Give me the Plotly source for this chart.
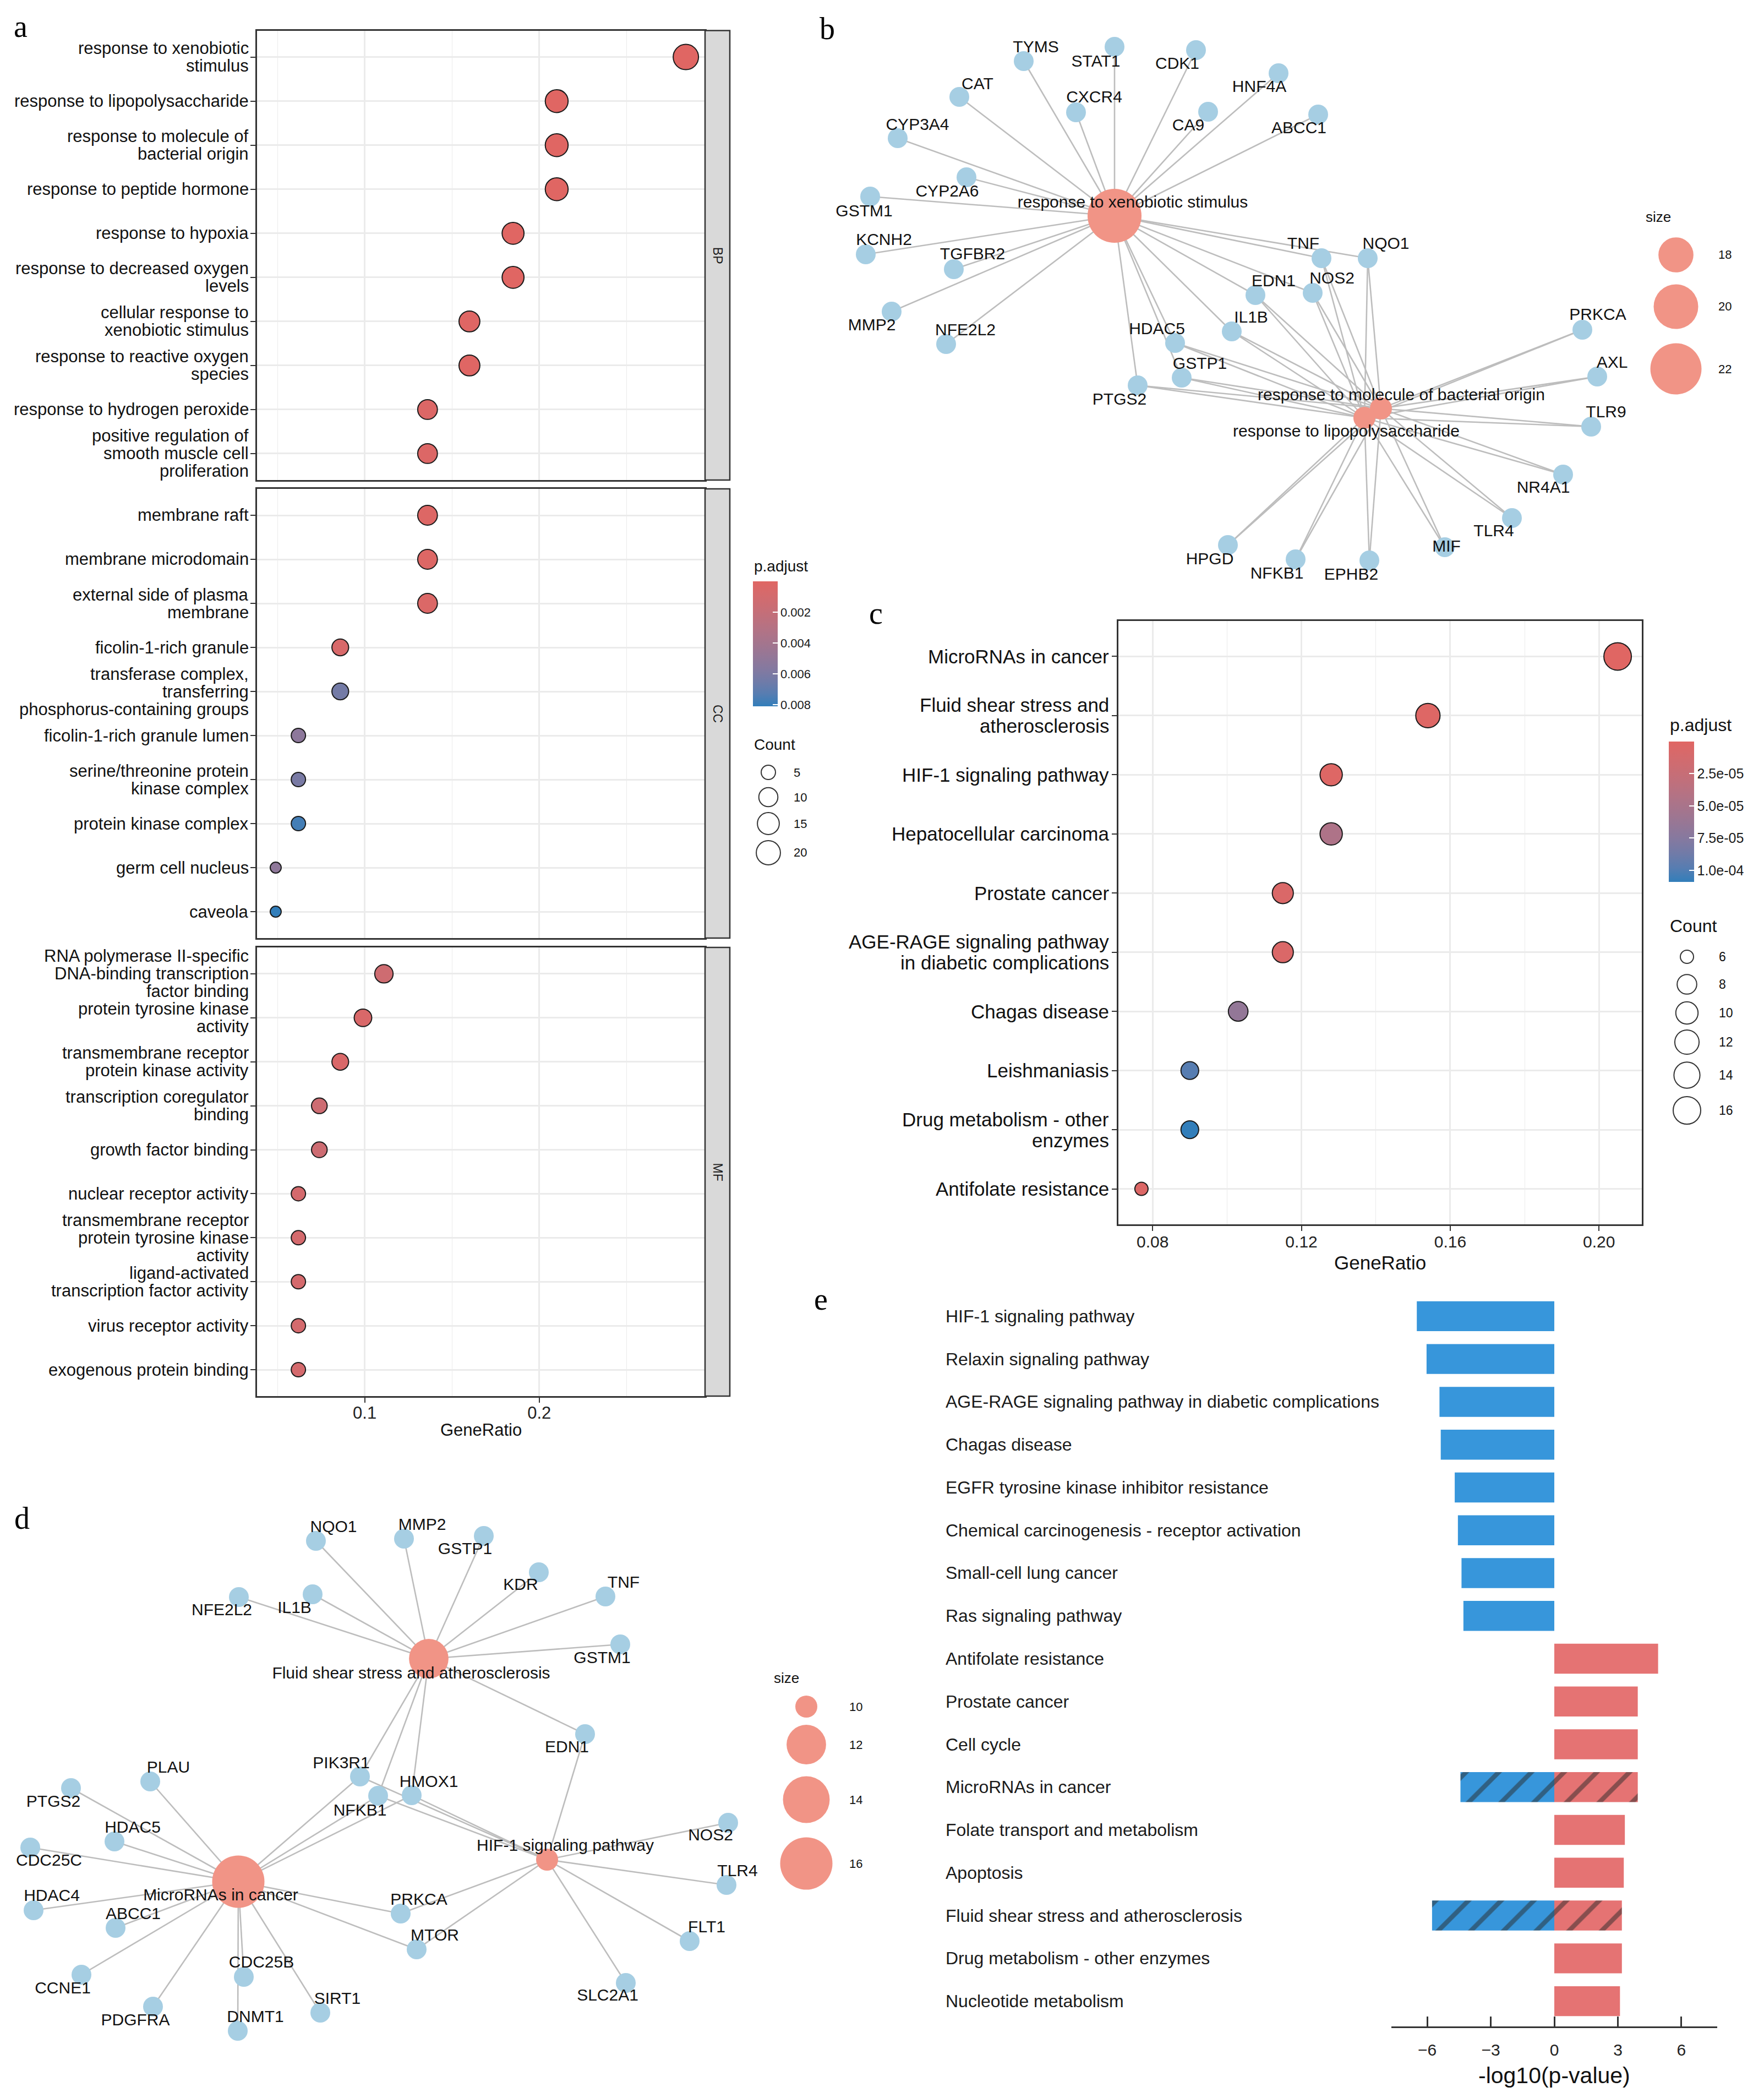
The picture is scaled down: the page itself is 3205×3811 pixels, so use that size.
import math
import plotly.graph_objects as go

W, H = 3205, 3811
SANS = "Liberation Sans, Arial, Helvetica, sans-serif"
SERIF = "Liberation Serif, Times New Roman, serif"

# ------------------------------------------------------------------ data: panel a (GO dot plot)
a_bp_terms = ["response to xenobiotic<br>stimulus", "response to lipopolysaccharide",
              "response to molecule of<br>bacterial origin", "response to peptide hormone",
              "response to hypoxia", "response to decreased oxygen<br>levels",
              "cellular response to<br>xenobiotic stimulus", "response to reactive oxygen<br>species",
              "response to hydrogen peroxide", "positive regulation of<br>smooth muscle cell<br>proliferation"]
a_bp_ratio = [0.284, 0.210, 0.210, 0.210, 0.185, 0.185, 0.160, 0.160, 0.136, 0.136]
a_bp_count = [23, 17, 17, 17, 15, 15, 13, 13, 11, 11]
a_bp_padj = [2e-8, 1e-6, 1e-6, 2e-6, 2e-5, 2e-5, 1e-4, 1e-4, 3e-4, 3e-4]

a_cc_terms = ["membrane raft", "membrane microdomain", "external side of plasma<br>membrane",
              "ficolin-1-rich granule", "transferase complex,<br>transferring<br>phosphorus-containing groups",
              "ficolin-1-rich granule lumen", "serine/threonine protein<br>kinase complex",
              "protein kinase complex", "germ cell nucleus", "caveola"]
a_cc_ratio = [0.136, 0.136, 0.136, 0.086, 0.086, 0.062, 0.062, 0.062, 0.049, 0.049]
a_cc_count = [11, 11, 11, 7, 7, 5, 5, 5, 4, 4]
a_cc_padj = [2e-4, 2e-4, 4e-4, 6e-4, 0.0063, 0.0052, 0.0061, 0.0077, 0.0051, 0.0081]

a_mf_terms = ["RNA polymerase II-specific<br>DNA-binding transcription<br>factor binding",
              "protein tyrosine kinase<br>activity", "transmembrane receptor<br>protein kinase activity",
              "transcription coregulator<br>binding", "growth factor binding", "nuclear receptor activity",
              "transmembrane receptor<br>protein tyrosine kinase<br>activity",
              "ligand-activated<br>transcription factor activity", "virus receptor activity",
              "exogenous protein binding"]
a_mf_ratio = [0.111, 0.099, 0.086, 0.074, 0.074, 0.062, 0.062, 0.062, 0.062, 0.062]
a_mf_count = [9, 8, 7, 6, 6, 5, 5, 5, 5, 5]
a_mf_padj = [0.0013, 0.0005, 0.0005, 0.0014, 0.0014, 0.0009, 0.0009, 0.0009, 0.0009, 0.0009]

a_facets = ["BP", "CC", "MF"]
a_count_breaks = [5, 10, 15, 20]
a_padj_breaks = [0.002, 0.004, 0.006, 0.008]
a_padj_labels = ["0.002", "0.004", "0.006", "0.008"]

# ------------------------------------------------------------------ data: panel c (KEGG dot plot)
c_terms = ["MicroRNAs in cancer", "Fluid shear stress and<br>atherosclerosis", "HIF-1 signaling pathway",
           "Hepatocellular carcinoma", "Prostate cancer",
           "AGE-RAGE signaling pathway<br>in diabetic complications", "Chagas disease", "Leishmaniasis",
           "Drug metabolism - other<br>enzymes", "Antifolate resistance"]
c_ratio = [0.205, 0.154, 0.128, 0.128, 0.115, 0.115, 0.103, 0.090, 0.090, 0.077]
c_count = [16, 12, 10, 10, 9, 9, 8, 7, 7, 6]
c_padj = [1e-7, 2e-6, 2e-6, 4.6e-5, 6e-6, 6e-6, 6.6e-5, 9.8e-5, 1.09e-4, 4e-6]
c_count_breaks = [6, 8, 10, 12, 14, 16]
c_padj_breaks = [2.5e-5, 5.0e-5, 7.5e-5, 1.0e-4]
c_padj_labels = ["2.5e-05", "5.0e-05", "7.5e-05", "1.0e-04"]

# ------------------------------------------------------------------ data: panel b (gene-concept network, layout coords)
b_hub_names = ["response to xenobiotic stimulus", "response to molecule of bacterial origin",
               "response to lipopolysaccharide"]
b_hub_count = [23, 17, 17]
b_hub_x = [567, 1051, 1021]
b_hub_y = [384, 734, 751]
b_hub_lx = [600, 1088, 988]
b_hub_ly = [361, 711, 777]
b_gene_names = ["TYMS", "STAT1", "CDK1", "HNF4A", "CAT", "CXCR4", "CA9", "ABCC1", "CYP3A4", "CYP2A6",
                "GSTM1", "KCNH2", "TGFBR2", "MMP2", "NFE2L2", "TNF", "NQO1", "EDN1", "NOS2", "HDAC5",
                "IL1B", "GSTP1", "PTGS2", "PRKCA", "AXL", "TLR9", "NR4A1", "TLR4", "MIF", "EPHB2",
                "NFKB1", "HPGD"]
b_gene_x = [402, 567, 715, 865, 285, 497, 737, 937, 173, 298, 123, 115, 275, 162, 261, 943, 1027, 823,
            927, 677, 780, 689, 609, 1417, 1444, 1433, 1382, 1289, 1167, 1030, 896, 773]
b_gene_y = [103, 77, 83, 125, 168, 196, 195, 200, 243, 314, 349, 454, 481, 558, 617, 461, 461, 528,
            524, 615, 594, 678, 692, 591, 676, 767, 854, 933, 986, 1010, 1008, 982]
b_gene_lx = [424, 533, 681, 830, 318, 530, 701, 902, 209, 263, 112, 148, 309, 126, 296, 910, 1060, 856,
             962, 644, 815, 722, 576, 1445, 1471, 1460, 1346, 1256, 1170, 997, 862, 740]
b_gene_ly = [79, 105, 109, 151, 146, 170, 221, 226, 220, 341, 377, 429, 455, 584, 593, 436, 436, 504,
             499, 591, 570, 654, 719, 565, 652, 742, 879, 958, 986, 1037, 1035, 1009]
b_genes_xeno = ["TYMS", "STAT1", "CDK1", "HNF4A", "CAT", "CXCR4", "CA9", "ABCC1", "CYP3A4", "CYP2A6",
                "GSTM1", "KCNH2", "TGFBR2", "MMP2", "NFE2L2", "TNF", "NQO1", "EDN1", "NOS2", "HDAC5",
                "IL1B", "GSTP1", "PTGS2"]
b_genes_bact = ["TNF", "NQO1", "EDN1", "NOS2", "HDAC5", "IL1B", "GSTP1", "PTGS2", "PRKCA", "AXL", "TLR9",
                "NR4A1", "TLR4", "MIF", "EPHB2", "NFKB1", "HPGD"]
b_genes_lps = ["TNF", "NQO1", "EDN1", "NOS2", "HDAC5", "IL1B", "GSTP1", "PTGS2", "PRKCA", "AXL", "TLR9",
               "NR4A1", "TLR4", "MIF", "EPHB2", "NFKB1", "HPGD"]
b_size_breaks = [18, 20, 22]

# ------------------------------------------------------------------ data: panel d (gene-concept network, layout coords)
d_hub_names = ["MicroRNAs in cancer", "Fluid shear stress and atherosclerosis", "HIF-1 signaling pathway"]
d_hub_count = [16, 12, 10]
d_hub_x = [425, 771, 986]
d_hub_y = [760, 355, 720]
d_hub_lx = [393, 739, 1019]
d_hub_ly = [786, 383, 696]
d_gene_names = ["NQO1", "MMP2", "GSTP1", "KDR", "TNF", "NFE2L2", "IL1B", "GSTM1", "EDN1", "PLAU",
                "PIK3R1", "HMOX1", "NFKB1", "PTGS2", "HDAC5", "CDC25C", "NOS2", "TLR4", "HDAC4", "ABCC1",
                "PRKCA", "MTOR", "FLT1", "CCNE1", "CDC25B", "SIRT1", "SLC2A1", "PDGFRA", "DNMT1"]
d_gene_x = [566, 726, 871, 971, 1092, 426, 560, 1119, 1055, 265, 646, 740, 679, 121, 200, 47, 1315, 1312,
            53, 202, 720, 749, 1245, 140, 435, 574, 1129, 270, 424]
d_gene_y = [141, 137, 132, 198, 242, 243, 238, 329, 492, 578, 569, 603, 604, 590, 687, 698, 653, 766,
            812, 844, 818, 883, 868, 929, 933, 998, 944, 987, 1031]
d_gene_lx = [598, 759, 837, 938, 1125, 395, 527, 1086, 1022, 298, 612, 771, 646, 89, 233, 81, 1283, 1332,
             86, 234, 753, 782, 1276, 106, 467, 605, 1096, 238, 456]
d_gene_ly = [117, 113, 157, 222, 218, 268, 264, 355, 517, 554, 546, 580, 632, 616, 663, 723, 677, 742,
             787, 820, 794, 859, 844, 955, 908, 974, 968, 1013, 1007]
d_genes_mirna = ["PLAU", "PTGS2", "HDAC5", "CDC25C", "HDAC4", "ABCC1", "CCNE1", "PDGFRA", "DNMT1", "CDC25B",
                 "SIRT1", "MTOR", "PRKCA", "PIK3R1", "NFKB1", "HMOX1"]
d_genes_fluid = ["NQO1", "MMP2", "GSTP1", "KDR", "TNF", "NFE2L2", "IL1B", "GSTM1", "EDN1", "PIK3R1",
                 "NFKB1", "HMOX1"]
d_genes_hif = ["EDN1", "NOS2", "TLR4", "FLT1", "SLC2A1", "MTOR", "PRKCA", "PIK3R1", "NFKB1", "HMOX1"]
d_size_breaks = [10, 12, 14, 16]

# ------------------------------------------------------------------ data: panel e (diverging bars)
e_terms = ["HIF-1 signaling pathway", "Relaxin signaling pathway",
           "AGE-RAGE signaling pathway in diabetic complications", "Chagas disease",
           "EGFR tyrosine kinase inhibitor resistance", "Chemical carcinogenesis - receptor activation",
           "Small-cell lung cancer", "Ras signaling pathway", "Antifolate resistance", "Prostate cancer",
           "Cell cycle", "MicroRNAs in cancer", "Folate transport and metabolism", "Apoptosis",
           "Fluid shear stress and atherosclerosis", "Drug metabolism - other enzymes",
           "Nucleotide metabolism"]
e_blue = [-6.49, -6.03, -5.42, -5.36, -4.70, -4.55, -4.38, -4.29, None, None, None, -4.43, None, None,
          -5.77, None, None]
e_red = [None, None, None, None, None, None, None, None, 4.90, 3.94, 3.94, 3.94, 3.33, 3.28, 3.19, 3.19,
         3.10]
e_shared = ["MicroRNAs in cancer", "Fluid shear stress and atherosclerosis"]
e_ticks = [-6, -3, 0, 3, 6]


# ------------------------------------------------------------------ helpers
def px(x):
    return x / W


def py(y):
    return 1 - y / H


def area_size(c, lo, hi, r0, r1):
    return r0 + (r1 - r0) * math.sqrt((c - lo) / (hi - lo))


def _lin(c):
    c = c / 255.0
    return c / 12.92 if c <= 0.04045 else ((c + 0.055) / 1.055) ** 2.4


def _delin(c):
    c = max(0.0, min(1.0, c))
    c = 12.92 * c if c <= 0.0031308 else 1.055 * c ** (1 / 2.4) - 0.055
    return int(round(max(0, min(1, c)) * 255))


def hex_to_lab(h):
    r, g, b = [_lin(int(h[i:i + 2], 16)) for i in (1, 3, 5)]
    X = 0.4124 * r + 0.3576 * g + 0.1805 * b
    Y = 0.2126 * r + 0.7152 * g + 0.0722 * b
    Z = 0.0193 * r + 0.1192 * g + 0.9505 * b
    f = lambda t: t ** (1 / 3) if t > 0.008856 else 7.787 * t + 16 / 116
    fx, fy, fz = f(X / 0.95047), f(Y), f(Z / 1.08883)
    return 116 * fy - 16, 500 * (fx - fy), 200 * (fy - fz)


def lab_to_rgb(L, a, b):
    fy = (L + 16) / 116
    fx = fy + a / 500
    fz = fy - b / 200
    finv = lambda t: t ** 3 if t ** 3 > 0.008856 else (t - 16 / 116) / 7.787
    X, Y, Z = finv(fx) * 0.95047, finv(fy), finv(fz) * 1.08883
    r = 3.2406 * X - 1.5372 * Y - 0.4986 * Z
    g = -0.9689 * X + 1.8758 * Y + 0.0415 * Z
    bb = 0.0557 * X - 0.2040 * Y + 1.0570 * Z
    return "rgb(%d,%d,%d)" % (_delin(r), _delin(g), _delin(bb))


def lab_scale(c0, c1, n=11):
    l0, l1 = hex_to_lab(c0), hex_to_lab(c1)
    return [[i / (n - 1), lab_to_rgb(*[l0[k] + (l1[k] - l0[k]) * i / (n - 1) for k in range(3)])]
            for i in range(n)]


PSCALE = lab_scale("#327EBA", "#E06663")
HUB = "#F19486"
GENE = "#A6CEE3"
EDGE = "#BDBDBD"
BORDER = "#333333"
GRID = "#EBEBEB"

fig = go.Figure()
shapes, annotations = [], []


def ann(text, X, Y, size, xanchor="center", family=SANS, color="#111111", angle=0):
    annotations.append(dict(text=text, x=px(X), y=py(Y), xref="paper", yref="paper", showarrow=False,
                            xanchor=xanchor, yanchor="middle", textangle=angle,
                            font=dict(family=family, size=size, color=color)))


def circle(X, Y, d, fill, line_color=None, line_w=0):
    shapes.append(dict(type="circle", xref="paper", yref="paper", xsizemode="pixel", ysizemode="pixel",
                       xanchor=px(X), yanchor=py(Y), x0=-d / 2, x1=d / 2, y0=-d / 2, y1=d / 2,
                       fillcolor=fill, line=dict(color=line_color or fill, width=line_w)))


def category_labels(terms, yref, x_right, size, spacing):
    # multi-line category labels with tight (ggplot-like) line spacing, right-aligned at the axis
    for i, t in enumerate(terms):
        lines = t.split("<br>")
        n = len(lines)
        for j, ln in enumerate(lines):
            annotations.append(dict(text=ln, x=px(x_right), xref="paper", y=i, yref=yref,
                                    yshift=((n - 1) / 2 - j) * spacing, xanchor="right", yanchor="middle",
                                    showarrow=False, font=dict(family=SANS, size=size, color="#111111")))


# ------------------------------------------------------------------ panel a
a_all_counts = a_bp_count + a_cc_count + a_mf_count
a_lo, a_hi = min(a_all_counts), max(a_all_counts)
a_sets = [(a_bp_terms, a_bp_ratio, a_bp_count, a_bp_padj),
          (a_cc_terms, a_cc_ratio, a_cc_count, a_cc_padj),
          (a_mf_terms, a_mf_ratio, a_mf_count, a_mf_padj)]
a_rows = [(47.6, 864), (880, 1696), (1713, 2528)]
a_xr = [0.0383, 0.295]
layout_axes = {}
for k, (terms, ratio, count, padj) in enumerate(a_sets):
    sfx = "" if k == 0 else str(k + 1)
    n = len(terms)
    fig.add_trace(go.Scatter(
        x=ratio, y=list(range(n)), mode="markers", xaxis="x" + sfx, yaxis="y" + sfx,
        marker=dict(size=[area_size(c, a_lo, a_hi, 20, 46) for c in count],
                    color=[-p for p in padj], coloraxis="coloraxis",
                    line=dict(color="#1a1a1a", width=2), opacity=1),
        hoverinfo="skip"))
    top, bot = a_rows[k]
    last = (k == 2)
    layout_axes["xaxis" + sfx] = dict(
        domain=[px(459), px(1273)], range=a_xr, anchor="y" + sfx, showline=True, mirror=True,
        linecolor=BORDER, linewidth=2.5, showgrid=True, gridcolor=GRID, gridwidth=2.5, zeroline=False,
        dtick=0.1, tick0=0, tickformat=".1f",
        minor=dict(dtick=0.05, tick0=0, showgrid=True, gridcolor=GRID, gridwidth=1.4),
        ticks="outside" if last else "", ticklen=9, tickwidth=2, tickcolor=BORDER,
        ticklabelstandoff=-8,
        showticklabels=last, tickfont=dict(family=SANS, size=31, color="#222222"), fixedrange=True)
    layout_axes["yaxis" + sfx] = dict(
        domain=[py(bot), py(top)], range=[n - 0.4, -0.6], anchor="x" + sfx, showline=True, mirror=True,
        linecolor=BORDER, linewidth=2.5, showgrid=True, gridcolor=GRID, gridwidth=2.5, zeroline=False,
        tickmode="array", tickvals=list(range(n)), showticklabels=False, ticks="outside", ticklen=9,
        tickwidth=2, tickcolor=BORDER, fixedrange=True)
    category_labels(terms, "y" + sfx, 446, 31, 32)
    shapes.append(dict(type="rect", xref="paper", yref="paper", x0=px(1273), x1=px(1318),
                       y0=py(bot), y1=py(top), fillcolor="#D9D9D9", line=dict(color=BORDER, width=2.5)))
    ann(a_facets[k], 1296, (top + bot) / 2, 23, color="#1A1A1A", angle=90)

ann("GeneRatio", 866, 2589, 31)
# legends a
ann("p.adjust", 1360, 1021, 28, xanchor="left")
ann("Count", 1360, 1345, 28, xanchor="left")
for c, yy in zip(a_count_breaks, [1395, 1440, 1488, 1541]):
    circle(1388, yy, area_size(c, a_lo, a_hi, 20, 46), "rgba(0,0,0,0)", "#333333", 2)
    ann(str(c), 1432, yy, 22, xanchor="left")

# ------------------------------------------------------------------ panel c
c_lo, c_hi = min(c_count), max(c_count)
nc = len(c_terms)
fig.add_trace(go.Scatter(
    x=c_ratio, y=list(range(nc)), mode="markers", xaxis="x5", yaxis="y5",
    marker=dict(size=[area_size(c, c_lo, c_hi, 24, 50) for c in c_count], color=[-p for p in c_padj],
                coloraxis="coloraxis2", line=dict(color="#1a1a1a", width=2), opacity=1),
    hoverinfo="skip"))
layout_axes["xaxis5"] = dict(
    domain=[px(2024), px(2975)], range=[0.0708, 0.2115], anchor="y5", showline=True, mirror=True,
    linecolor=BORDER, linewidth=2.5, showgrid=True, gridcolor=GRID, gridwidth=2.5, zeroline=False,
    dtick=0.04, tick0=0, tickformat=".2f",
    minor=dict(dtick=0.02, tick0=0, showgrid=True, gridcolor=GRID, gridwidth=1.4),
    ticks="outside", ticklen=9, tickwidth=2, tickcolor=BORDER, ticklabelstandoff=-6,
    tickfont=dict(family=SANS, size=30, color="#222222"), fixedrange=True)
layout_axes["yaxis5"] = dict(
    domain=[py(2216), py(1120)], range=[nc - 0.4, -0.6], anchor="x5", showline=True, mirror=True,
    linecolor=BORDER, linewidth=2.5, showgrid=True, gridcolor=GRID, gridwidth=2.5, zeroline=False,
    tickmode="array", tickvals=list(range(nc)), showticklabels=False, ticks="outside", ticklen=9,
    tickwidth=2, tickcolor=BORDER, fixedrange=True)
category_labels(c_terms, "y5", 2009, 35, 38)
ann("GeneRatio", 2499, 2285, 35)
ann("p.adjust", 3024, 1309, 32, xanchor="left")
ann("Count", 3024, 1674, 32, xanchor="left")
for c, yy in zip(c_count_breaks, [1730, 1780, 1832, 1885, 1945, 2009]):
    circle(3057, yy, area_size(c, c_lo, c_hi, 24, 50), "rgba(0,0,0,0)", "#333333", 2)
    ann(str(c), 3113, yy, 23, xanchor="left")


# ------------------------------------------------------------------ networks
def network(xa, ya, hub_names, hub_count, hx, hy, hlx, hly, gnames, gx, gy, glx, gly, edge_sets, r0, r1):
    pos = {g: (x, y) for g, x, y in zip(gnames, gx, gy)}
    ex, ey = [], []
    for h, genes in enumerate(edge_sets):
        for g in genes:
            ex += [hx[h], pos[g][0], None]
            ey += [hy[h], pos[g][1], None]
    fig.add_trace(go.Scatter(x=ex, y=ey, mode="lines", xaxis=xa, yaxis=ya,
                             line=dict(color=EDGE, width=2.6), hoverinfo="skip"))
    fig.add_trace(go.Scatter(x=gx, y=gy, mode="markers", xaxis=xa, yaxis=ya,
                             marker=dict(size=36, color=GENE, line=dict(width=0), opacity=1),
                             hoverinfo="skip"))
    lo, hi = min(hub_count), max(hub_count)
    fig.add_trace(go.Scatter(x=hx, y=hy, mode="markers", xaxis=xa, yaxis=ya,
                             marker=dict(size=[area_size(c, lo, hi, r0, r1) for c in hub_count], color=HUB,
                                         line=dict(width=0), opacity=1), hoverinfo="skip"))
    fig.add_trace(go.Scatter(x=glx, y=gly, mode="text", text=gnames, xaxis=xa, yaxis=ya,
                             textposition="middle center",
                             textfont=dict(family=SANS, size=30, color="#111111"), hoverinfo="skip"))
    fig.add_trace(go.Scatter(x=hlx, y=hly, mode="text", text=hub_names, xaxis=xa, yaxis=ya,
                             textposition="middle center",
                             textfont=dict(family=SANS, size=30, color="#111111"), hoverinfo="skip"))
    return lo, hi


b_lo, b_hi = network("x4", "y4", b_hub_names, b_hub_count, b_hub_x, b_hub_y, b_hub_lx, b_hub_ly,
                     b_gene_names, b_gene_x, b_gene_y, b_gene_lx, b_gene_ly,
                     [b_genes_xeno, b_genes_bact, b_genes_lps], 40, 98)
layout_axes["xaxis4"] = dict(domain=[px(1450), 1.0], range=[0, 1755], anchor="y4", visible=False,
                             fixedrange=True)
layout_axes["yaxis4"] = dict(domain=[py(1100), 1.0], range=[1100, 0], anchor="x4", visible=False,
                             fixedrange=True)
ann("size", 3005, 386, 26)
for c, yy in zip(b_size_breaks, [455, 549, 662]):
    circle(3037, yy, area_size(c, b_lo, b_hi, 40, 98), HUB)
    ann(str(c), 3126, yy, 22)

d_lo, d_hi = network("x6", "y6", d_hub_names, d_hub_count, d_hub_x, d_hub_y, d_hub_lx, d_hub_ly,
                     d_gene_names, d_gene_x, d_gene_y, d_gene_lx, d_gene_ly,
                     [d_genes_mirna, d_genes_fluid, d_genes_hif], 40, 95)
layout_axes["xaxis6"] = dict(domain=[0, px(1650)], range=[0, 1650], anchor="y6", visible=False,
                             fixedrange=True)
layout_axes["yaxis6"] = dict(domain=[0, py(2650)], range=[1161, 0], anchor="x6", visible=False,
                             fixedrange=True)
ann("size", 1421, 3040, 26)
for c, yy in zip(d_size_breaks, [3092, 3161, 3261, 3377]):
    circle(1457, yy, area_size(c, d_lo, d_hi, 40, 95), HUB)
    ann(str(c), 1547, yy, 22)

# ------------------------------------------------------------------ panel e
ne = len(e_terms)
pat = ["/" if t in e_shared else "" for t in e_terms]
for vals, col in [(e_blue, "#3796DB"), (e_red, "#E57373")]:
    fig.add_trace(go.Bar(
        x=vals, y=list(range(ne)), orientation="h", xaxis="x7", yaxis="y7", width=0.7,
        marker=dict(color=col, line=dict(width=0),
                    pattern=dict(shape=pat, fgcolor="#2A2A2A", bgcolor=col, size=42, solidity=0.2)),
        hoverinfo="skip"))
layout_axes["xaxis7"] = dict(
    domain=[px(2520), px(3112)], range=[-7.69, 7.69], anchor="y7", showline=True, linecolor=BORDER,
    linewidth=3, showgrid=False, zeroline=False, tickmode="array", tickvals=e_ticks, ticks="inside",
    ticklen=18, tickwidth=2.5, tickcolor=BORDER, ticklabelstandoff=14,
    tickfont=dict(family=SANS, size=30, color="#222222"), fixedrange=True)
layout_axes["yaxis7"] = dict(domain=[py(3673), py(2337)], range=[ne - 0.41, -0.59], anchor="x7",
                             visible=False, fixedrange=True)
for i, t in enumerate(e_terms):
    annotations.append(dict(text=t, x=px(1708), y=i, xref="paper", yref="y7", showarrow=False,
                            xanchor="left", yanchor="middle",
                            font=dict(family=SANS, size=32, color="#1a1a1a")))
ann("-log10(p-value)", 2816, 3762, 41)

# ------------------------------------------------------------------ panel letters
for lab, X, Y in [("a", 29, 40), ("b", 1495, 44), ("c", 1583, 1106), ("d", 32, 2750), ("e", 1483, 2352)]:
    ann(lab, X, Y, 56, family=SERIF, color="#000000")

# ------------------------------------------------------------------ layout
fig.update_layout(
    width=W, height=H, margin=dict(l=0, r=0, t=0, b=0), paper_bgcolor="white", plot_bgcolor="white",
    showlegend=False, barmode="overlay", shapes=shapes, annotations=annotations,
    coloraxis=dict(colorscale=PSCALE, colorbar=dict(
        x=px(1360), xanchor="left", y=py(1048), yanchor="top", len=227, lenmode="pixels", thickness=45,
        xpad=0, ypad=0, outlinewidth=0, tickmode="array", tickvals=[-v for v in a_padj_breaks],
        ticktext=a_padj_labels, ticks="inside", ticklen=9, tickwidth=2, tickcolor="white",
        tickfont=dict(family=SANS, size=22, color="#1a1a1a"))),
    coloraxis2=dict(colorscale=PSCALE, colorbar=dict(
        x=px(3024), xanchor="left", y=py(1339), yanchor="top", len=255, lenmode="pixels", thickness=46,
        xpad=0, ypad=0, outlinewidth=0, tickmode="array", tickvals=[-v for v in c_padj_breaks],
        ticktext=c_padj_labels, ticks="inside", ticklen=9, tickwidth=2, tickcolor="white",
        tickfont=dict(family=SANS, size=25, color="#1a1a1a"))),
    **layout_axes)

fig.write_html("out.html")
